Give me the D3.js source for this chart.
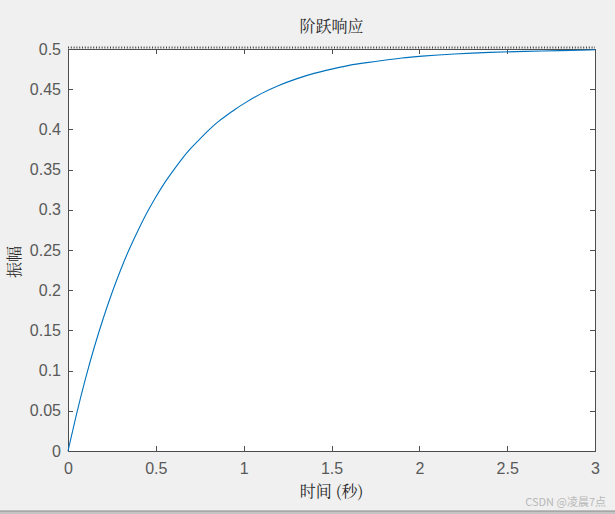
<!DOCTYPE html>
<html>
<head>
<meta charset="utf-8">
<script src="https://cdn.jsdelivr.net/npm/d3@7"></script>
<style>
  body { margin: 0; background: #f0f0f0; }
  svg { display: block; }
</style>
</head>
<body>
<div id="chart"></div>
<script>
// step response values
const timeValues = [0, 0.05, 0.1, 0.15, 0.2, 0.25, 0.3, 0.35, 0.4, 0.45, 0.5, 0.55, 0.6,
  0.65, 0.7, 0.75, 0.8, 0.85, 0.9, 0.95, 1.0, 1.1, 1.2, 1.3, 1.4, 1.5, 1.6, 1.7, 1.8,
  1.9, 2.0, 2.2, 2.4, 2.6, 2.8, 3.0];
const amplitudeValues = [0, 0.048, 0.091, 0.130, 0.165, 0.197, 0.226, 0.252, 0.275,
  0.297, 0.316, 0.334, 0.349, 0.364, 0.377, 0.388, 0.399, 0.409, 0.417, 0.425, 0.432,
  0.445, 0.455, 0.463, 0.470, 0.475, 0.480, 0.483, 0.486, 0.489, 0.491, 0.494, 0.496,
  0.497, 0.498, 0.499];
const steadyState = 0.5;
const xTicks = [0, 0.5, 1, 1.5, 2, 2.5, 3];
const yTicks = [0, 0.05, 0.1, 0.15, 0.2, 0.25, 0.3, 0.35, 0.4, 0.45, 0.5];

const width = 615, height = 514;
const margin = { top: 49, right: 20, bottom: 63, left: 68 };
const plotW = 595 - margin.left, plotH = 451 - margin.top;

const svg = d3.select("#chart").append("svg")
    .attr("width", width)
    .attr("height", height);

svg.append("rect").attr("width", width).attr("height", height).attr("fill", "#f0f0f0");

// bottom window edge
svg.append("rect").attr("x", 0).attr("y", 511).attr("width", width).attr("height", 3).attr("fill", "#c4c4c4");
svg.append("line").attr("x1", 0).attr("x2", width).attr("y1", 511).attr("y2", 511)
    .style("stroke", "#8a8a8a");

const g = svg.append("g").attr("transform", `translate(${margin.left},${margin.top})`);

const x = d3.scaleLinear().domain([0, 3]).range([0, plotW]);
const y = d3.scaleLinear().domain([0, 0.5]).range([plotH, 0]);

g.append("rect").attr("width", plotW).attr("height", plotH).attr("fill", "#ffffff");

const axisColor = "#4d4d4d";
const labelFont = "'Liberation Sans', Arial, sans-serif";

// bottom and left axes with inward ticks
const xAxis = g.append("g").attr("transform", `translate(0,${plotH})`)
    .call(d3.axisBottom(x).tickValues(xTicks).tickSizeInner(-5).tickSizeOuter(0).tickPadding(12)
        .tickFormat(d3.format("")));
const yAxis = g.append("g")
    .call(d3.axisLeft(y).tickValues(yTicks).tickSizeInner(-5).tickSizeOuter(0).tickPadding(7)
        .tickFormat(d3.format("")));
// top and right with ticks only
const xTop = g.append("g")
    .call(d3.axisTop(x).tickValues(xTicks).tickSizeInner(-5).tickSizeOuter(0).tickFormat(""));
const yRight = g.append("g").attr("transform", `translate(${plotW},0)`)
    .call(d3.axisRight(y).tickValues(yTicks).tickSizeInner(-5).tickSizeOuter(0).tickFormat(""));

[xAxis, yAxis, xTop, yRight].forEach(a => {
    a.selectAll("path, line").style("stroke", axisColor).style("stroke-width", 1).attr("shape-rendering", "crispEdges");
    a.selectAll("text").style("fill", "#595959").style("font-family", labelFont).style("font-size", "16px");
});

// steady state dotted line
g.append("line")
    .attr("x1", x(0)).attr("x2", x(3))
    .attr("y1", y(steadyState) - 1.5).attr("y2", y(steadyState) - 1.5)
    .style("stroke", "#444")
    .style("stroke-width", 2)
    .style("stroke-dasharray", "1,1.8");

// response curve (basis smooths the rounding in the read values)
const points = timeValues.map((t, i) => [t, amplitudeValues[i]]);
g.append("path")
    .datum(points)
    .attr("fill", "none")
    .style("stroke", "#0072BD")
    .style("stroke-width", 1.1)
    .attr("d", d3.line().x(d => x(d[0])).y(d => y(d[1])).curve(d3.curveBasis));

const cjkFont = "'Noto Serif CJK SC', 'Noto Sans CJK SC', serif";

svg.append("text")
    .attr("x", margin.left + plotW / 2).attr("y", 32)
    .attr("text-anchor", "middle")
    .style("font-family", cjkFont).style("font-size", "16px").style("fill", "#262626")
    .text("阶跃响应");

svg.append("text")
    .attr("x", margin.left + plotW / 2).attr("y", 497)
    .attr("text-anchor", "middle")
    .style("font-family", cjkFont).style("font-size", "16px").style("fill", "#262626")
    .text("时间 (秒)");

svg.append("text")
    .attr("transform", "translate(20,262) rotate(-90)")
    .attr("text-anchor", "middle")
    .style("font-family", cjkFont).style("font-size", "16px").style("fill", "#262626")
    .text("振幅");

svg.append("text")
    .attr("x", 606).attr("y", 506)
    .attr("text-anchor", "end")
    .style("font-family", "'Noto Sans CJK SC', sans-serif").style("font-size", "11px").style("fill", "#b8b8b8")
    .text("CSDN @凌晨7点");
</script>
</body>
</html>
